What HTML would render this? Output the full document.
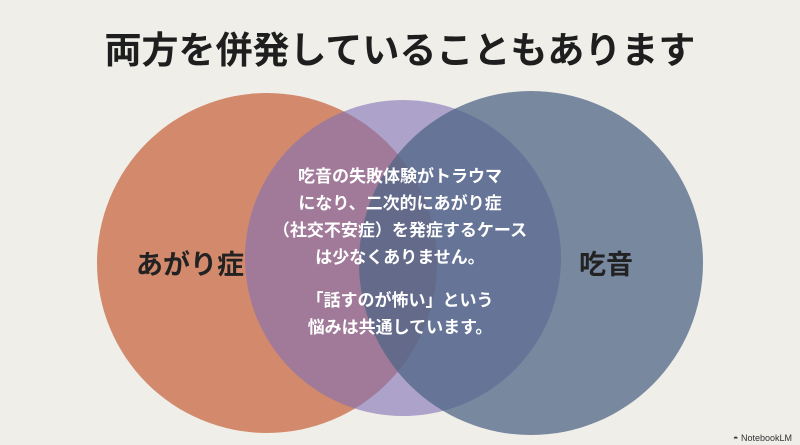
<!DOCTYPE html>
<html><head><meta charset="utf-8"><style>
html,body{margin:0;padding:0;background:#efeee9;}
body{width:800px;height:445px;overflow:hidden;position:relative;font-family:"Liberation Sans","Noto Sans CJK JP",sans-serif;}
svg{position:absolute;left:0;top:0;}
</style></head><body>
<svg width="800" height="445" viewBox="0 0 800 445">
<rect width="800" height="445" fill="#efeee9"/>
<text x="400" y="63" text-anchor="middle" font-size="37" font-weight="bold" fill="#1e1e1e" font-family="Liberation Sans, Noto Sans CJK JP, sans-serif">両方を併発していることもあります</text>
<circle cx="267" cy="263" r="170" fill="#d38a6c"/>
<circle cx="403" cy="258" r="158" fill="#7f6fb5" opacity="0.6"/>
<circle cx="531" cy="263" r="172" fill="#4f6685" opacity="0.75"/>
<g font-family="Liberation Sans, Noto Sans CJK JP, sans-serif" font-weight="bold">
<text x="190" y="274" text-anchor="middle" font-size="27" fill="#222">あがり症</text>
<text x="606" y="274" text-anchor="middle" font-size="27" fill="#222">吃音</text>
<g fill="#fff" font-size="17" text-anchor="middle">
<text x="400" y="182">吃音の失敗体験がトラウマ</text>
<text x="400" y="209">になり、二次的にあがり症</text>
<text x="400" y="236">（社交不安症）を発症するケース</text>
<text x="400" y="263">は少なくありません。</text>
<text x="400" y="306">「話すのが怖い」という</text>
<text x="400" y="333">悩みは共通しています。</text>
</g>
<text x="792" y="441" text-anchor="end" font-size="9" font-weight="normal" fill="#333">◓ NotebookLM</text>
</g>
</svg>
</body></html>
